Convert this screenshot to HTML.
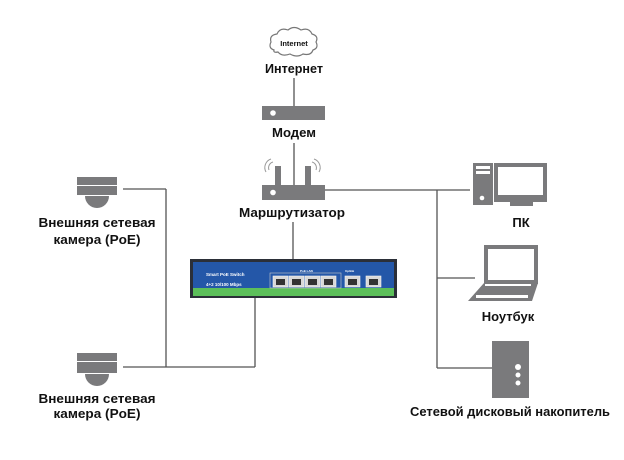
<!DOCTYPE html>
<html><head><meta charset="utf-8"><style>
html,body{margin:0;padding:0;background:#fff;}
svg{display:block;}
text{font-family:"Liberation Sans","DejaVu Sans",sans-serif;font-weight:bold;fill:#111;}
</style></head><body>
<svg width="624" height="460" viewBox="0 0 624 460" xmlns="http://www.w3.org/2000/svg">
<g stroke="#555" stroke-width="1.3" fill="none">
<line x1="294" y1="78" x2="294" y2="106"/>
<line x1="294" y1="143" x2="294" y2="186"/>
<line x1="325" y1="190" x2="470" y2="190"/>
<line x1="437" y1="190" x2="437" y2="368"/>
<line x1="437" y1="278" x2="475" y2="278"/>
<line x1="437" y1="368" x2="492" y2="368"/>
<line x1="293" y1="222" x2="293" y2="259"/>
<line x1="123" y1="189" x2="166" y2="189"/>
<line x1="166" y1="189" x2="166" y2="367"/>
<line x1="123" y1="367" x2="255" y2="367"/>
<line x1="255" y1="298" x2="255" y2="367"/>
</g>
<!-- cloud -->
<path d="M274 50 q-6 -2 -3 -8 q-2 -7 6 -8 q3 -7 11 -4 q6 -5 13 0 q8 -3 11 4 q7 2 4 8 q3 6 -3 8 q-2 6 -10 4 q-6 4 -13 0 q-8 3 -12 -2 q-5 1 -4 -2z" fill="#fff" stroke="#777" stroke-width="1.2"/>
<text x="294" y="46" font-size="7.5" text-anchor="middle">Internet</text>
<text x="294" y="73" font-size="13" text-anchor="middle" textLength="58" lengthAdjust="spacingAndGlyphs">Интернет</text>
<!-- modem -->
<rect x="262" y="106" width="63" height="14" fill="#7a7a7c"/>
<circle cx="273" cy="113" r="2.8" fill="#fff"/>
<text x="294" y="137" font-size="13" text-anchor="middle" textLength="44" lengthAdjust="spacingAndGlyphs">Модем</text>
<!-- router -->
<rect x="275" y="166" width="6" height="20" fill="#7a7a7c"/>
<rect x="305" y="166" width="6" height="20" fill="#7a7a7c"/>
<g stroke="#999" stroke-width="1" fill="none">
<path d="M269 170 a6 6 0 0 1 4 -8"/><path d="M266 172 a9 9 0 0 1 5 -13"/>
<path d="M316 170 a6 6 0 0 0 -4 -8"/><path d="M319 172 a9 9 0 0 0 -5 -13"/>
</g>
<rect x="262" y="185" width="63" height="15" fill="#7a7a7c"/>
<circle cx="273" cy="192.5" r="2.8" fill="#fff"/>
<text x="292" y="217" font-size="13" text-anchor="middle" textLength="106" lengthAdjust="spacingAndGlyphs">Маршрутизатор</text>
<!-- switch -->
<rect x="190" y="259" width="207" height="39" fill="#2b2f38"/>
<rect x="193" y="262" width="201" height="26" fill="#2457a8"/>
<rect x="193" y="288" width="201" height="8" fill="#5cbf5a"/>
<text x="206" y="276" font-size="4.5" style="fill:#fff">Smart PoE Switch</text>
<text x="206" y="286" font-size="4.5" style="fill:#fff">4+2 10/100 Mbps</text>
<text x="300" y="272" font-size="3" style="fill:#fff">PoE LAN</text>
<text x="345" y="272" font-size="3" style="fill:#fff">Uplink</text>
<rect x="270" y="273" width="71" height="15" fill="none" stroke="#ccc" stroke-width="0.6"/>
<g fill="#d8d8d8" stroke="#f4f4f4" stroke-width="0.6">
<rect x="273" y="276" width="15" height="11"/><rect x="289" y="276" width="15" height="11"/>
<rect x="305" y="276" width="15" height="11"/><rect x="321" y="276" width="15" height="11"/>
<rect x="345" y="276" width="15" height="11"/><rect x="366" y="276" width="15" height="11"/>
</g>
<g fill="#333">
<rect x="276" y="279" width="9" height="6"/><rect x="292" y="279" width="9" height="6"/>
<rect x="308" y="279" width="9" height="6"/><rect x="324" y="279" width="9" height="6"/>
<rect x="348" y="279" width="9" height="6"/><rect x="369" y="279" width="9" height="6"/>
</g>
<!-- cameras -->
<g fill="#7a7a7c">
<rect x="77" y="177" width="40" height="8"/><rect x="77" y="186" width="40" height="9"/>
<path d="M85 196 h24 a12 12 0 0 1 -24 0z"/>
<rect x="77" y="353" width="40" height="8"/><rect x="77" y="362" width="40" height="11"/>
<path d="M85 374 h24 a12 12 0 0 1 -24 0z"/>
</g>
<text x="97" y="227" font-size="13" text-anchor="middle" textLength="117" lengthAdjust="spacingAndGlyphs">Внешняя сетевая</text>
<text x="97" y="244" font-size="13" text-anchor="middle" textLength="87" lengthAdjust="spacingAndGlyphs">камера (PoE)</text>
<text x="97" y="403" font-size="13" text-anchor="middle" textLength="117" lengthAdjust="spacingAndGlyphs">Внешняя сетевая</text>
<text x="97" y="418" font-size="13" text-anchor="middle" textLength="87" lengthAdjust="spacingAndGlyphs">камера (PoE)</text>
<!-- PC -->
<rect x="473" y="163" width="20" height="42" fill="#7a7a7c"/>
<rect x="476" y="166" width="14" height="3" fill="#fff"/><rect x="476" y="171" width="14" height="3" fill="#fff"/>
<circle cx="482" cy="198" r="2.3" fill="#fff"/>
<rect x="494" y="163" width="53" height="39" fill="#7a7a7c"/>
<rect x="498" y="167" width="45" height="28" fill="#fff"/>
<rect x="510" y="202" width="23" height="4" fill="#7a7a7c"/>
<text x="521" y="227" font-size="13" text-anchor="middle">ПК</text>
<!-- laptop -->
<rect x="484" y="245" width="54" height="39" fill="#7a7a7c"/>
<rect x="488" y="249" width="46" height="31" fill="#fff"/>
<path d="M484 283 h54 l-6 18 h-64z" fill="#7a7a7c"/>
<g fill="#fff"><rect x="485" y="284" width="46" height="2"/><rect x="476" y="295" width="52" height="3"/></g>
<text x="508" y="321" font-size="13" text-anchor="middle">Ноутбук</text>
<!-- NAS -->
<rect x="492" y="341" width="37" height="57" fill="#7a7a7c"/>
<circle cx="518" cy="367" r="3" fill="#fff"/><circle cx="518" cy="375" r="2.5" fill="#fff"/><circle cx="518" cy="383" r="2.5" fill="#fff"/>
<text x="510" y="416" font-size="13" text-anchor="middle" textLength="200" lengthAdjust="spacingAndGlyphs">Сетевой дисковый накопитель</text>
</svg>
</body></html>
